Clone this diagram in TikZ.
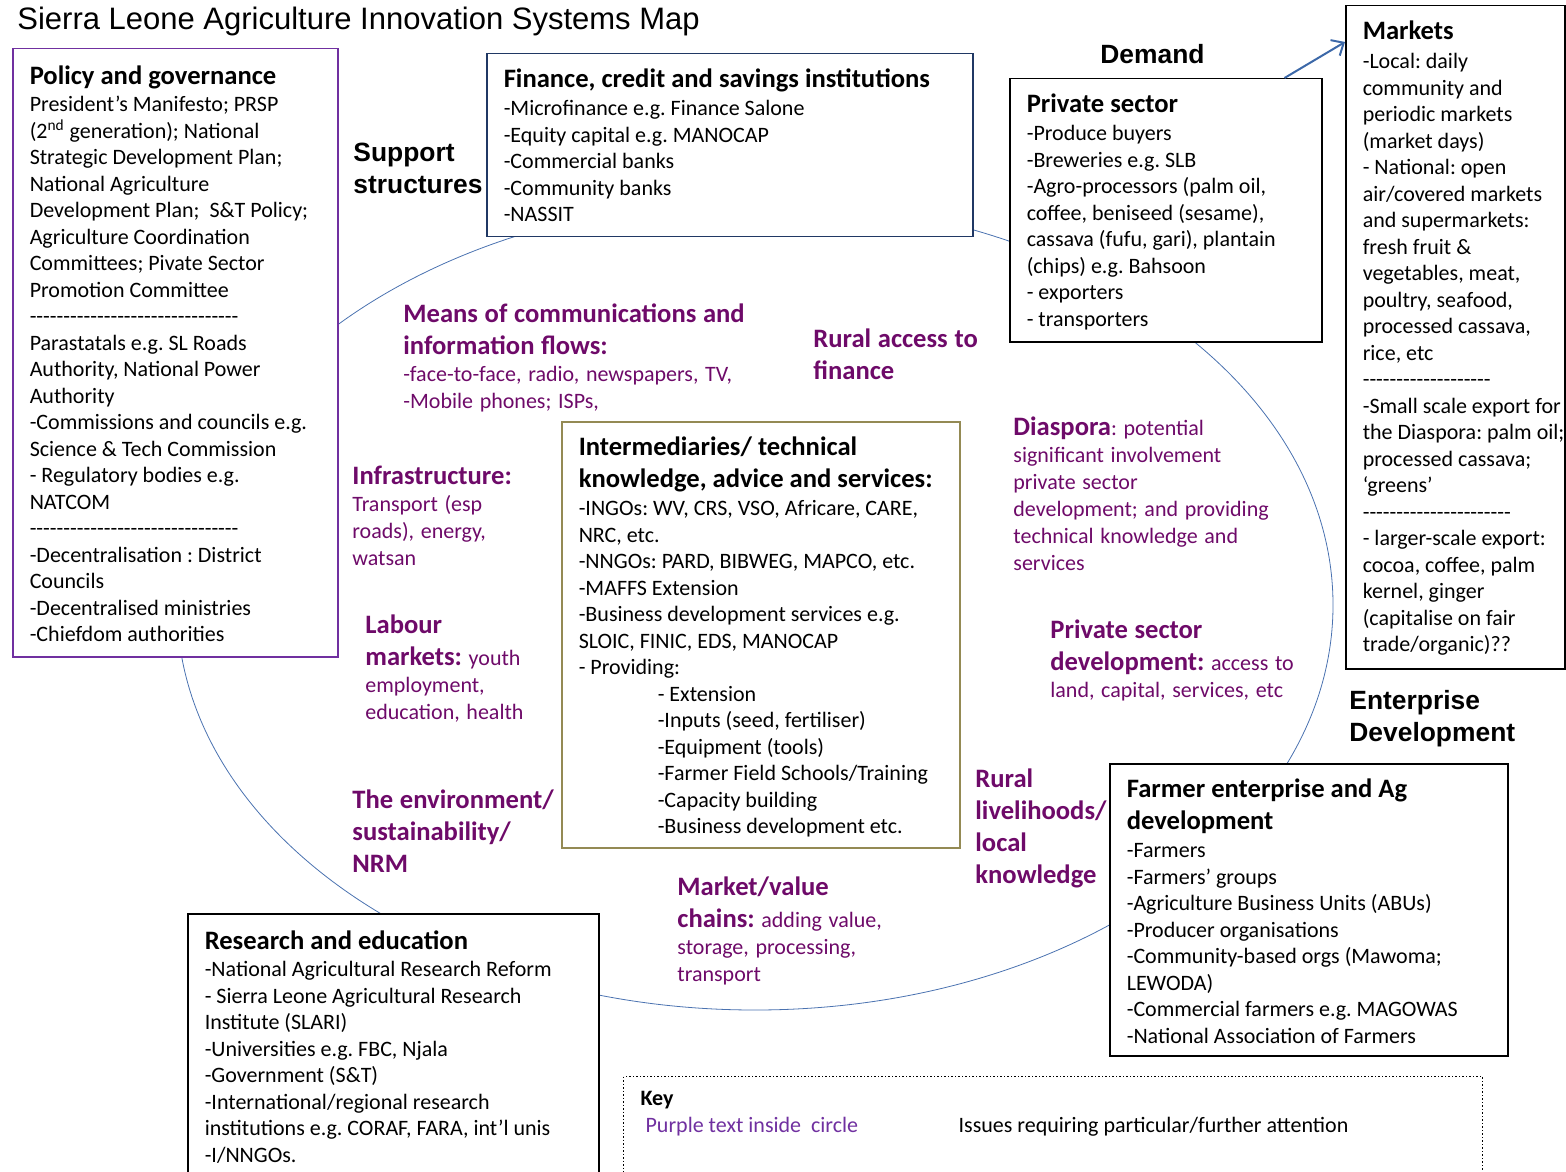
\documentclass[tikz,border=0pt]{standalone}
\usepackage{fontspec}
\setmainfont{Carlito}[Ligatures=TeXOff]
\newfontfamily\arialfont{Liberation Sans}
\usepackage{tikz}
\usetikzlibrary{arrows.meta, positioning, calc}

\setlength{\parindent}{0pt}
\frenchspacing
\hfuzz=20pt

\definecolor{lblpurple}{RGB}{110,10,105}
\definecolor{keypurple}{HTML}{7030A0}
\definecolor{policyline}{HTML}{7030A0}
\definecolor{financeline}{HTML}{203864}
\definecolor{intermline}{HTML}{948A54}
\definecolor{ringblue}{HTML}{4A72B0}
\definecolor{arrowblue}{HTML}{3C68A8}

% fonts for boxes and labels
\newcommand{\bxhead}{\fontsize{13.3}{16}\selectfont\bfseries}
\newcommand{\bxbody}{\fontsize{11}{13.25}\selectfont}
\newcommand{\lblhead}{\fontsize{13.3}{16}\selectfont\bfseries}
\newcommand{\lbltext}{\fontsize{11}{13.5}\selectfont\mdseries}
\newcommand{\zonefont}{\arialfont\bfseries\fontsize{13.2}{16}\selectfont}
\newcommand{\boxtext}[3]{\parbox[t][#2][t]{#1}{\raggedright\bxbody #3}}
\newcommand{\indt}{\hspace*{39.5pt}}

\begin{document}
\begin{tikzpicture}[
    x=0.5pt, y=-0.5pt,
    every node/.style={inner sep=0pt},
    box/.style={draw, fill=white, line width=0.75pt, anchor=north west, inner xsep=8.5pt, inner ysep=7.5pt},
    lbl/.style={anchor=north west, text=lblpurple, text width=200pt, align=left},
    zone/.style={anchor=north west, font=\zonefont, align=left},
    ring/.style={draw=ringblue, line width=0.4pt},
    demandarrow/.style={draw=arrowblue, line width=1pt, -{Straight Barb[length=5pt, width=9pt]}}
  ]
  \clip (0,0) rectangle (1566,1171);

  % the circle behind the boxes
  \draw[ring] (755,605) ellipse [x radius=289pt, y radius=202.5pt];

  \node[anchor=north west, font=\arialfont\fontsize{15.5}{18}\selectfont] (title) at (17,7) {Sierra Leone Agriculture Innovation Systems Map};

  % zone headings
  \node[zone] (support) at (353,143) {Support\\ structures};
  \node[zone] (demand) at (1100,44) {Demand};
  \node[zone] (enterprise) at (1349,690) {Enterprise\\ Development};

  % boxes
  \node[box, draw=policyline, inner ysep=8.5pt] (policy) at (12,48) {\boxtext{145.5pt}{287pt}{%
    {\bxhead Policy and governance\par}\vspace{0.5pt}
    President’s Manifesto; PRSP\\
    (2\textsuperscript{nd} generation); National\\
    Strategic Development Plan;\\
    National Agriculture\\
    Development Plan;\ \ S\&T Policy;\\
    Agriculture Coordination\\
    Committees; Pivate Sector\\
    Promotion Committee\\
    -------------------------------\\
    Parastatals e.g. SL Roads\\
    Authority, National Power\\
    Authority\\
    -Commissions and councils e.g.\\
    Science \& Tech Commission\\
    - Regulatory bodies e.g.\\
    NATCOM\\
    -------------------------------\\
    -Decentralisation : District\\
    Councils\\
    -Decentralised ministries\\
    -Chiefdom authorities}};

  \node[box, draw=financeline] (finance) at (486,53) {\boxtext{226pt}{76.5pt}{%
    {\bxhead Finance, credit and savings institutions\par}\vspace{1pt}
    -Microfinance e.g. Finance Salone\\
    -Equity capital e.g. MANOCAP\\
    -Commercial banks\\
    -Community banks\\
    -NASSIT}};

  \node[box] (private) at (1009,78) {\boxtext{139pt}{116.5pt}{%
    {\bxhead Private sector\par}\vspace{1pt}
    -Produce buyers\\
    -Breweries e.g. SLB\\
    -Agro-processors (palm oil,\\
    coffee, beniseed (sesame),\\
    cassava (fufu, gari), plantain\\
    (chips) e.g. Bahsoon\\
    - exporters\\
    - transporters}};

  \node[box] (markets) at (1345,5) {\boxtext{92.5pt}{316.5pt}{%
    {\bxhead Markets\par}\vspace{1.5pt}
    -Local: daily\\
    community and\\
    periodic markets\\
    (market days)\\
    - National: open\\
    \mbox{air/covered markets}\\
    \mbox{and supermarkets:}\\
    fresh fruit \&\\
    vegetables, meat,\\
    poultry, seafood,\\
    \mbox{processed cassava,}\\
    rice, etc\\
    -------------------\\
    \mbox{-Small scale export for}\\
    \mbox{the Diaspora: palm oil;}\\
    \mbox{processed cassava;}\\
    ‘greens’\\
    ----------------------\\
    \mbox{- larger-scale export:}\\
    cocoa, coffee, palm\\
    kernel, ginger\\
    \mbox{(capitalise on fair}\\
    trade/organic)??}};

  \node[box, draw=intermline] (interm) at (561,421) {\boxtext{182pt}{198pt}{%
    {\bxhead Intermediaries/ technical\\ knowledge, advice and services:\par}\vspace{1pt}
    -INGOs: WV, CRS, VSO, Africare, CARE,\\
    NRC, etc.\\
    -NNGOs: PARD, BIBWEG, MAPCO, etc.\\
    -MAFFS Extension\\
    -Business development services e.g.\\
    SLOIC, FINIC, EDS, MANOCAP\\
    - Providing:\\
    \indt - Extension\\
    \indt -Inputs (seed, fertiliser)\\
    \indt -Equipment (tools)\\
    \indt -Farmer Field Schools/Training\\
    \indt -Capacity building\\
    \indt -Business development etc.}};

  \node[box, inner ysep=8.5pt] (research) at (187,913) {\boxtext{188.5pt}{119pt}{%
    {\bxhead Research and education\par}\vspace{0.5pt}
    -National Agricultural Research Reform\\
    - Sierra Leone Agricultural Research\\
    Institute (SLARI)\\
    -Universities e.g. FBC, Njala\\
    -Government (S\&T)\\
    -International/regional research\\
    institutions e.g. CORAF, FARA, int’l unis\\
    -I/NNGOs.}};

  \node[box] (farmer) at (1109,763) {\boxtext{182pt}{131pt}{%
    {\bxhead Farmer enterprise and Ag\\ development\par}\vspace{1pt}
    -Farmers\\
    -Farmers’ groups\\
    -Agriculture Business Units (ABUs)\\
    -Producer organisations\\
    -Community-based orgs (Mawoma;\\
    LEWODA)\\
    -Commercial farmers e.g. MAGOWAS\\
    -National Association of Farmers}};

  % purple issues inside the circle
  \node[lbl] (means) at (403,303) {{\lblhead Means of communications and\\ information flows:\par}{\lbltext -face-to-face, radio, newspapers, TV,\\ -Mobile phones; ISPs,\par}};
  \node[lbl] (access) at (813,328) {{\lblhead Rural access to\\ finance\par}};
  \node[lbl] (infra) at (352,466) {{\lblhead Infrastructure:\par}{\lbltext Transport (esp\\ roads), energy,\\ watsan\par}};
  \node[lbl] (labour) at (365,614) {{\lblhead Labour\\ markets: {\lbltext youth}\par}{\lbltext employment,\\ education, health\par}};
  \node[lbl] (environ) at (352,789) {{\lblhead The environment/\\ sustainability/\\ NRM\par}};
  \node[lbl] (diaspora) at (1013,416) {{\lblhead Diaspora}{\lbltext : potential\\ significant involvement\\ private sector\\ development; and providing\\ technical knowledge and\\ services\par}};
  \node[lbl] (psd) at (1050,619) {{\lblhead Private sector\\ development: {\lbltext access to}\par}{\lbltext land, capital, services, etc\par}};
  \node[lbl] (rural) at (975,768) {{\lblhead Rural\\ livelihoods/\\ local\\ knowledge\par}};
  \node[lbl] (chains) at (677,876) {{\lblhead Market/value\\ chains: {\lbltext adding value,}\par}{\lbltext storage, processing,\\ transport\par}};

  % key
  \node[box, draw, densely dotted, line width=0.6pt] (key) at (623,1076) {\boxtext{412.5pt}{39.5pt}{%
    \textbf{Key}\\
    \hspace*{2.5pt}\makebox[156.5pt][l]{\textcolor{keypurple}{Purple text inside\ \ circle}}Issues requiring particular/further attention}};

  % demand goes on to the markets
  \draw[demandarrow] ([xshift=-19pt]private.north east) -- ([yshift=-18.5pt]markets.north west);
\end{tikzpicture}
\end{document}
